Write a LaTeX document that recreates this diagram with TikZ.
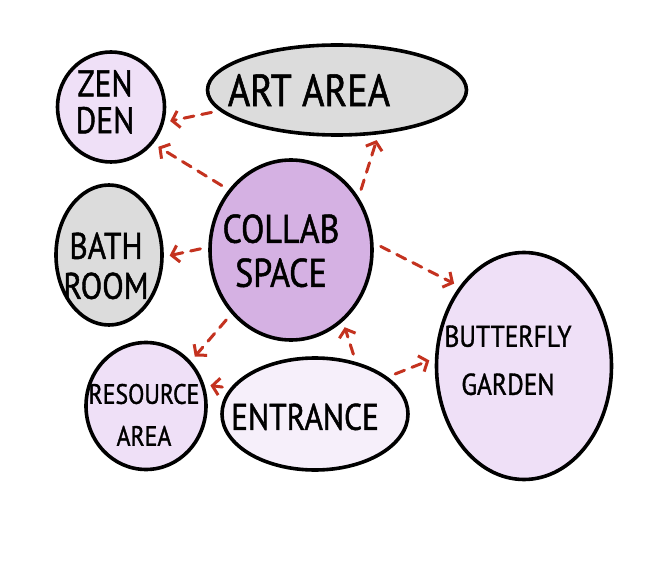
\documentclass[tikz,border=0pt]{standalone}
\usepackage{fontspec}
\usepackage{xcolor}
\usetikzlibrary{arrows.meta,shapes.geometric}
\newfontfamily\handfont[FakeStretch=0.85,FakeBold=1.2]{PT Sans}
\newcommand{\fptext}[3]{\makebox[0pt]{\raisebox{\dimexpr #2-0.38em\relax}[0pt][0pt]{\kern#1\begin{tabular}{@{}c@{}}#3\end{tabular}\kern-#1}}}
\definecolor{fplilac}{HTML}{EFE0F7}
\definecolor{fppale}{HTML}{F6EFFA}
\definecolor{fpmauve}{HTML}{D5B1E3}
\definecolor{fpgrey}{HTML}{DCDCDC}
\definecolor{fpred}{HTML}{C4321F}
\tikzset{
fpzone/.style={ellipse,draw=black,line width=3.6pt,inner sep=0pt,font=\handfont},
fplight/.style={fpzone,fill=fplilac},
fpentry/.style={fpzone,fill=fppale},
fphub/.style={fpzone,fill=fpmauve},
fpgrey/.style={fpzone,fill=fpgrey},
fparr/.style={-{Straight Barb[length=7pt,width=17pt,line width=3pt]},draw=fpred,line width=3pt,line cap=round,dash pattern=on 10pt off 8pt,shorten <=8pt,shorten >=6pt}
}
\begin{document}
\begin{tikzpicture}[x=1pt,y=-1pt]
\useasboundingbox[fill=white] (0,0) rectangle (670,575);
\node[fplight,minimum width=107pt,minimum height=110pt,font=\handfont\fontsize{37}{35}\selectfont]
  (zen) at (111,107) {\fptext{-6pt}{8pt}{ZEN\\DEN}};
\node[fpgrey,minimum width=259pt,minimum height=90pt,font=\handfont\fontsize{45}{45}\selectfont]
  (art) at (337,90) {\fptext{-28pt}{4pt}{ART AREA}};
\node[fphub,minimum width=162pt,minimum height=180pt,font=\handfont\fontsize{40}{44}\selectfont]
  (collab) at (291,250) {\fptext{-10pt}{3pt}{COLLAB\\SPACE}};
\node[fpgrey,minimum width=106pt,minimum height=140pt,font=\handfont\fontsize{37}{40}\selectfont]
  (bath) at (109,255) {\fptext{-3pt}{-8pt}{BATH\\ROOM}};
\node[fplight,minimum width=175pt,minimum height=227pt,font=\handfont\fontsize{30}{48}\selectfont]
  (butterfly) at (524,366) {\fptext{-16pt}{10pt}{BUTTERFLY\\GARDEN}};
\node[fplight,minimum width=120pt,minimum height=127pt,font=\handfont\fontsize{28}{42}\selectfont]
  (resource) at (146,406) {\fptext{-2pt}{-6pt}{RESOURCE\\AREA}};
\node[fpentry,minimum width=186pt,minimum height=112pt,font=\handfont\fontsize{37}{40}\selectfont]
  (entrance) at (315,414) {\fptext{-10pt}{0pt}{ENTRANCE}};
\draw[fparr] (art.190) -- (zen.-16);
\draw[fparr] (collab.136) -- (zen.-41);
\draw[fparr] (collab.38) -- (art.-47);
\draw[fparr] (collab.178) -- (bath.-2);
\draw[fparr] (collab.5) -- (butterfly.129);
\draw[fparr] (collab.-133) -- (resource.45);
\draw[fparr] (entrance.163) -- (resource.20);
\draw[fparr] (entrance.52) -- (collab.-54);
\draw[fparr] (entrance.27) -- (butterfly.175);
\end{tikzpicture}
\end{document}
